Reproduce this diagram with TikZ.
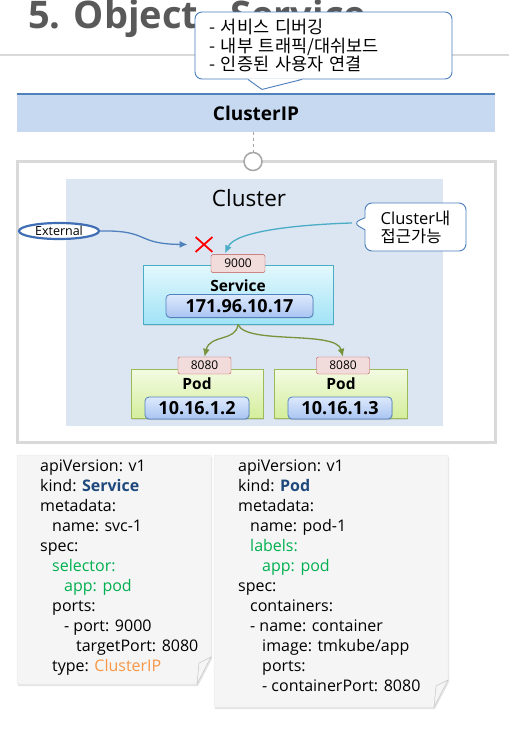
\documentclass[tikz,border=0pt]{standalone}
\usepackage{fontspec}
\setmainfont{Open Sans}
\newfontfamily\kr{Noto Sans CJK KR}
\usetikzlibrary{arrows.meta, positioning, shapes.geometric, shapes.misc, shapes.callouts, shadows}

\definecolor{titlegray}{HTML}{595959}
\definecolor{rulegray}{HTML}{D9D9D9}
\definecolor{calloutblue}{HTML}{4A7EBB}
\definecolor{barblue}{HTML}{C6D9F1}
\definecolor{barline}{HTML}{4F81BD}
\definecolor{knobgray}{HTML}{A6A6A6}
\definecolor{clusterbg}{HTML}{DCE6F2}
\definecolor{extblue}{HTML}{3F6EB5}
\definecolor{tealline}{HTML}{4BACC6}
\definecolor{portred}{HTML}{C0504D}
\definecolor{portpink}{HTML}{F2DCDB}
\definecolor{svctop}{HTML}{E3F8FD}
\definecolor{svcbot}{HTML}{A1E3F6}
\definecolor{iptop}{HTML}{DDE9FC}
\definecolor{ipbot}{HTML}{A9C4F2}
\definecolor{podtop}{HTML}{F3FBE3}
\definecolor{podbot}{HTML}{D4EE9C}
\definecolor{podborder}{HTML}{9BBB59}
\definecolor{podgreen}{HTML}{77933C}
\definecolor{kindblue}{HTML}{1F497D}
\definecolor{yamlgreen}{HTML}{00B050}
\definecolor{clipor}{HTML}{F79646}
\definecolor{notefill}{HTML}{F5F5F5}

\begin{document}
\begin{tikzpicture}[
  x=1pt, y=-1pt,
  callbox/.style={rectangle callout, draw=calloutblue, fill=white, line width=0.9pt, rounded corners=7pt},
  portbox/.style={draw=portred, fill=portpink, rounded corners=2pt, minimum width=54pt, minimum height=18pt, inner sep=0pt, font=\fontsize{12}{14}\selectfont},
  ipbox/.style={draw=barline, top color=iptop, bottom color=ipbot, rounded corners=4pt, inner sep=0pt, line width=0.8pt, font=\bfseries\fontsize{18}{20}\selectfont, drop shadow={opacity=0.2, shadow xshift=0.8pt, shadow yshift=-1.2pt}},
  svcbox/.style={draw=tealline, top color=svctop, bottom color=svcbot, inner sep=0pt, line width=0.8pt, drop shadow={opacity=0.2, shadow xshift=1pt, shadow yshift=-1.5pt}},
  podbox/.style={draw=podborder, top color=podtop, bottom color=podbot, inner sep=0pt, line width=0.8pt, drop shadow={opacity=0.2, shadow xshift=1pt, shadow yshift=-1.5pt}},
  boxlabel/.style={font=\bfseries\fontsize{15.5}{17}\selectfont, inner sep=0pt},
  yaml/.style={anchor=base west, inner sep=0pt, font=\fontsize{16}{20}\selectfont},
  notebody/.style={fill=notefill, draw=gray!15, line width=0.5pt},
  noteshadow/.style={fill=gray!20},
  curl/.style={fill=gray!8, draw=gray!45, line width=0.5pt},
  arrow/.style={-{Latex[length=8pt, width=7pt]}, line width=1.3pt}
]
\useasboundingbox (0,0) rectangle (509,742);
\clip (0,0) rectangle (509,742);
\fill[white] (0,0) rectangle (509,742);

% title and callout
\node[anchor=base west, inner sep=0pt, text=titlegray, font=\bfseries\fontsize{38}{40}\selectfont] (title) at (28,28) {5. Object - Service};
\draw[rulegray, line width=1.5pt] (0,55) -- (509,55);
\node[draw=calloutblue, fill=white, line width=0.9pt, rounded corners=7pt, minimum width=257pt, minimum height=67pt, text width=229pt, inner xsep=14pt, align=left,
  font=\kr\fontsize{17.5}{18.5}\selectfont] (tip) at (323.5,45.5)
  {- 서비스 디버깅\\- 내부 트래픽/대쉬보드\\- 인증된 사용자 연결};
\fill[white] ([xshift=-75.5pt, yshift=1pt]tip.south) -- ([xshift=-61.5pt, yshift=-10pt]tip.south) -- ([xshift=-21.5pt, yshift=1pt]tip.south) -- cycle;
\draw[calloutblue, line width=0.9pt, line join=round] ([xshift=-75.5pt]tip.south) -- ([xshift=-61.5pt, yshift=-10pt]tip.south) -- ([xshift=-21.5pt]tip.south);

% ClusterIP bar
\node[fill=barblue, minimum width=478pt, minimum height=38pt, inner sep=0pt, font=\bfseries\fontsize{19}{21}\selectfont] (cip) at (256,113) {ClusterIP};
\draw[barline, line width=2pt] (cip.north west) -- (cip.north east);

% frame and cluster
\node[draw=rulegray, line width=3pt, minimum width=478pt, minimum height=280.5pt, inner sep=0pt] (frame) at (256,301.75) {};
\node[fill=clusterbg, minimum width=377pt, minimum height=247pt, inner sep=0pt] (cluster) at (254.5,302.5) {};
\node[circle, draw=knobgray, fill=white, line width=1.5pt, minimum size=18pt, inner sep=0pt] (knob) at (253,161.5) {};
\draw[knobgray, dashed, line width=0.8pt] (cip.south -| knob.north) -- (knob.north);
\node[font=\fontsize{22.5}{24}\selectfont, inner sep=0pt] (clabel) at (249,198) {Cluster};

% outside and inside access
\node[ellipse, draw=extblue, line width=2.2pt, fill=white, minimum width=80pt, minimum height=16pt, inner sep=0pt, font=\fontsize{12.5}{14}\selectfont] (ext) at (59,231) {External};
\node[cross out, draw=red, line width=1.8pt, minimum width=15pt, minimum height=13pt, inner sep=0pt] (xmark) at (204,244.5) {};
\node[callbox, minimum width=101pt, minimum height=48pt, align=left, font=\fontsize{16.5}{18}\selectfont,
  callout absolute pointer={(353,223)}, callout pointer width=12pt] (inside) at (415.5,227) {Cluster{\kr 내}\\{\kr 접근가능}};

% service
\node[svcbox, minimum width=190pt, minimum height=59pt] (svc) at (238,294.5) {};
\node[portbox] (svcport) at ([yshift=1pt]svc.north) {9000};
\node[boxlabel] (svclabel) at (238,285.5) {Service};
\node[ipbox, minimum width=147pt, minimum height=23pt] (svcip) at (239.5,306) {171.96.10.17};

% pods
\node[podbox, minimum width=132pt, minimum height=49pt] (pod1) at (197,393.5) {};
\node[podbox, minimum width=133pt, minimum height=49pt] (pod2) at (340.5,393.5) {};
\node[portbox, minimum width=53pt, minimum height=17pt] (port1) at (204.5,365.5) {8080};
\node[portbox, minimum width=53pt, minimum height=17pt] (port2) at (343,365.5) {8080};
\node[boxlabel] (podlabel1) at (197,384) {Pod};
\node[boxlabel] (podlabel2) at (341,384) {Pod};
\node[ipbox, minimum width=104pt, minimum height=22pt] (ip1) at (197,408) {10.16.1.2};
\node[ipbox, minimum width=104pt, minimum height=22pt] (ip2) at (340,408) {10.16.1.3};

% connectors
\draw[arrow, barline] (ext.east) .. controls (150,230) and (135,244) .. ([xshift=-8pt]xmark.west);
\draw[arrow, tealline] (inside.pointer) .. controls (290,225) and (235,232) .. ([xshift=-13pt, yshift=1pt]svcport.north);
\draw[arrow, podgreen] (svc.south) .. controls (236,342) and (210,334) .. (port1.north);
\draw[arrow, podgreen] (svc.south) .. controls (246,345) and (336,330) .. (port2.north);

% yaml notes
\fill[noteshadow] (18,457) -- (212,457) -- (212,659) -- (198,686) -- (18,686) -- cycle;
\filldraw[notebody] (17,455) -- (211,455) -- (211,657) -- (197,684) -- (17,684) -- cycle;
\filldraw[curl] (211,657) -- (199,663) -- (197,684) -- cycle;
\fill[noteshadow] (215,457) -- (449,457) -- (449,682) -- (435,709) -- (215,709) -- cycle;
\filldraw[notebody] (214,455) -- (448,455) -- (448,680) -- (434,707) -- (214,707) -- cycle;
\filldraw[curl] (448,680) -- (436,686) -- (434,707) -- cycle;

\foreach \lvl/\txt [count=\i] in {0/apiVersion: v1, 0/{kind: \textcolor{kindblue}{\bfseries Service}}, 0/metadata:, 1/name: svc-1, 0/spec:,
    1/{\textcolor{yamlgreen}{selector:}}, 2/{\textcolor{yamlgreen}{app: pod}}, 1/ports:, 2/- port: 9000, 3/targetPort: 8080,
    1/{type: \textcolor{clipor}{ClusterIP}}}
  \node[yaml] (svcline\i) at ({40+12*\lvl}, {451+20*\i}) {\txt};

\foreach \lvl/\txt [count=\i] in {0/apiVersion: v1, 0/{kind: \textcolor{kindblue}{\bfseries Pod}}, 0/metadata:, 1/name: pod-1,
    1/{\textcolor{yamlgreen}{labels:}}, 2/{\textcolor{yamlgreen}{app: pod}}, 0/spec:, 1/containers:, 1/- name: container,
    2/{image: tmkube/app}, 2/ports:, 2/- containerPort: 8080}
  \node[yaml] (podline\i) at ({238+12*\lvl}, {451+20*\i}) {\txt};
\end{tikzpicture}
\end{document}
